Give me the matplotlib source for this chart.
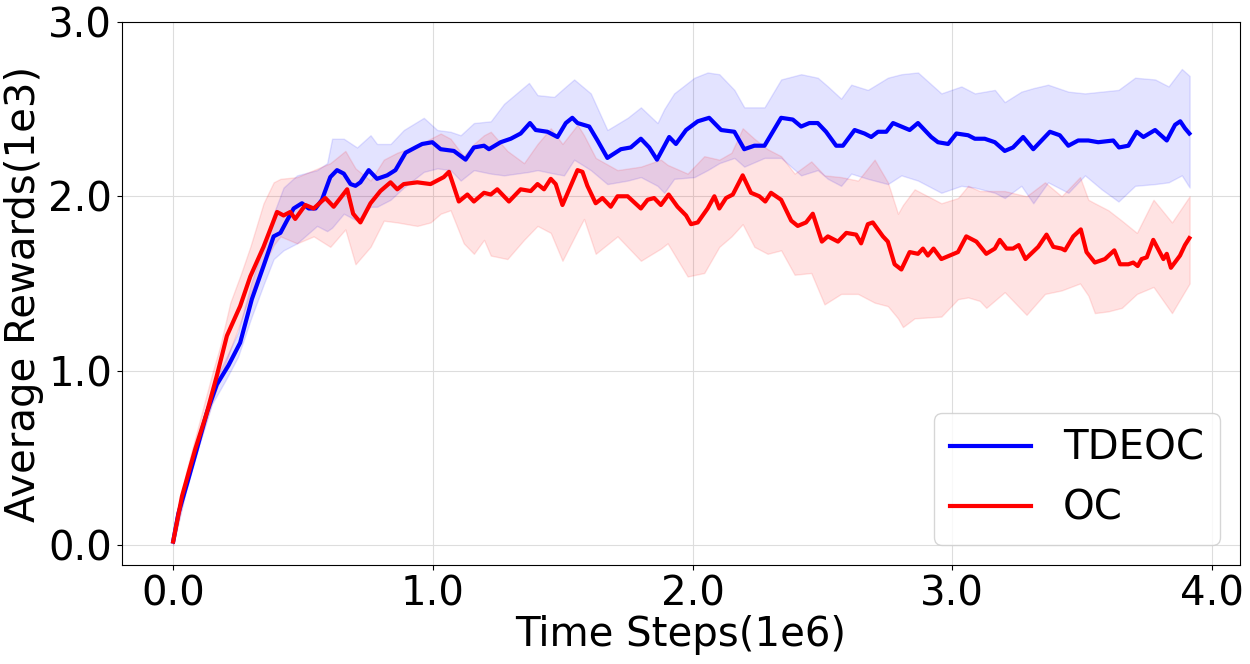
import matplotlib
matplotlib.use("Agg")
import matplotlib.pyplot as plt
import numpy as np

# time steps in units of 1e6, rewards in units of 1e3
tdeoc_x = [0, 0.02, 0.053, 0.091, 0.130, 0.168, 0.213, 0.258, 0.303, 0.348, 0.387, 0.413,
           0.438, 0.464, 0.496, 0.522, 0.548, 0.573, 0.605, 0.631, 0.657, 0.683, 0.702, 0.721,
           0.753, 0.785, 0.824, 0.856, 0.895, 0.933, 0.959, 0.998, 1.030, 1.081, 1.126, 1.158,
           1.197, 1.216, 1.261, 1.300, 1.338, 1.374, 1.396, 1.441, 1.480, 1.512, 1.537, 1.557,
           1.602, 1.634, 1.672, 1.724, 1.762, 1.801, 1.833, 1.863, 1.910, 1.936, 1.975, 2.020,
           2.064, 2.110, 2.161, 2.199, 2.238, 2.277, 2.341, 2.386, 2.418, 2.450, 2.482, 2.514,
           2.553, 2.579, 2.624, 2.662, 2.688, 2.714, 2.746, 2.772, 2.804, 2.836, 2.868, 2.919,
           2.945, 2.984, 3.016, 3.061, 3.087, 3.125, 3.164, 3.202, 3.234, 3.273, 3.312, 3.376,
           3.414, 3.447, 3.485, 3.524, 3.562, 3.620, 3.642, 3.678, 3.710, 3.736, 3.781, 3.826,
           3.858, 3.878, 3.896, 3.913]
tdeoc_y = [0.02, 0.18, 0.35, 0.55, 0.76, 0.92, 1.03, 1.16, 1.41, 1.60, 1.77, 1.79,
           1.86, 1.93, 1.96, 1.93, 1.93, 1.98, 2.11, 2.15, 2.13, 2.07, 2.06, 2.08,
           2.15, 2.10, 2.12, 2.15, 2.25, 2.28, 2.30, 2.31, 2.27, 2.26, 2.21, 2.28,
           2.29, 2.27, 2.31, 2.33, 2.36, 2.42, 2.38, 2.37, 2.34, 2.42, 2.45, 2.42,
           2.40, 2.32, 2.22, 2.27, 2.28, 2.33, 2.28, 2.21, 2.34, 2.30, 2.38, 2.43,
           2.45, 2.38, 2.37, 2.27, 2.29, 2.29, 2.45, 2.44, 2.40, 2.42, 2.42, 2.37,
           2.29, 2.29, 2.38, 2.36, 2.34, 2.37, 2.37, 2.42, 2.40, 2.38, 2.42, 2.34,
           2.31, 2.30, 2.36, 2.35, 2.33, 2.33, 2.31, 2.26, 2.28, 2.34, 2.27, 2.37,
           2.35, 2.29, 2.32, 2.32, 2.31, 2.32, 2.28, 2.29, 2.37, 2.34, 2.38, 2.32,
           2.41, 2.43, 2.39, 2.36]

oc_x = [0, 0.034, 0.085, 0.130, 0.168, 0.207, 0.258, 0.297, 0.348, 0.400, 0.425, 0.451,
        0.470, 0.509, 0.541, 0.586, 0.618, 0.670, 0.693, 0.721, 0.760, 0.798, 0.837, 0.863,
        0.888, 0.940, 0.991, 1.042, 1.062, 1.100, 1.133, 1.158, 1.197, 1.223, 1.248, 1.293,
        1.338, 1.377, 1.403, 1.428, 1.454, 1.473, 1.499, 1.525, 1.557, 1.576, 1.595, 1.627,
        1.653, 1.685, 1.711, 1.750, 1.801, 1.827, 1.852, 1.878, 1.908, 1.942, 1.975, 1.994,
        2.020, 2.058, 2.084, 2.103, 2.129, 2.155, 2.193, 2.225, 2.257, 2.280, 2.302, 2.341,
        2.380, 2.405, 2.437, 2.463, 2.498, 2.521, 2.560, 2.592, 2.630, 2.649, 2.675, 2.694,
        2.733, 2.752, 2.778, 2.804, 2.836, 2.868, 2.887, 2.906, 2.928, 2.958, 2.990, 3.022,
        3.054, 3.093, 3.131, 3.164, 3.183, 3.209, 3.234, 3.256, 3.282, 3.331, 3.363, 3.389,
        3.421, 3.434, 3.466, 3.495, 3.517, 3.549, 3.588, 3.624, 3.646, 3.678, 3.697, 3.714,
        3.729, 3.749, 3.774, 3.813, 3.826, 3.842, 3.877, 3.896, 3.913]
oc_y = [0.02, 0.28, 0.55, 0.76, 0.97, 1.20, 1.37, 1.54, 1.71, 1.91, 1.89, 1.91,
        1.87, 1.95, 1.93, 1.99, 1.94, 2.04, 1.90, 1.85, 1.96, 2.03, 2.08, 2.04,
        2.07, 2.08, 2.07, 2.11, 2.14, 1.97, 2.01, 1.97, 2.02, 2.01, 2.04, 1.97,
        2.04, 2.03, 2.07, 2.04, 2.10, 2.07, 1.95, 2.04, 2.15, 2.14, 2.06, 1.96,
        1.99, 1.94, 2.00, 2.00, 1.93, 1.98, 1.99, 1.95, 2.01, 1.94, 1.89, 1.84,
        1.85, 1.93, 2.00, 1.93, 1.99, 2.01, 2.12, 2.02, 2.00, 1.97, 2.02, 1.98,
        1.86, 1.83, 1.85, 1.90, 1.74, 1.77, 1.74, 1.79, 1.78, 1.73, 1.84, 1.85,
        1.77, 1.74, 1.61, 1.58, 1.68, 1.67, 1.70, 1.66, 1.70, 1.64, 1.66, 1.68,
        1.77, 1.74, 1.67, 1.70, 1.75, 1.70, 1.70, 1.72, 1.64, 1.71, 1.78, 1.71,
        1.70, 1.69, 1.77, 1.81, 1.68, 1.62, 1.64, 1.69, 1.61, 1.61, 1.62, 1.60,
        1.64, 1.65, 1.75, 1.64, 1.67, 1.59, 1.66, 1.72, 1.76]

# shaded bands: x, lower edge, upper edge
tdeoc_band_x = [0.0, 0.05, 0.10, 0.15, 0.20, 0.25, 0.30, 0.35, 0.387, 0.425, 0.477, 0.554,
                0.593, 0.612, 0.657, 0.708, 0.760, 0.785, 0.837, 0.888, 0.965, 1.017, 1.068,
                1.107, 1.158, 1.223, 1.274, 1.370, 1.403, 1.467, 1.505, 1.544, 1.608, 1.672,
                1.750, 1.801, 1.865, 1.891, 1.929, 2.007, 2.058, 2.103, 2.161, 2.199, 2.277,
                2.341, 2.418, 2.482, 2.521, 2.572, 2.611, 2.675, 2.752, 2.804, 2.868, 2.958,
                3.035, 3.087, 3.164, 3.202, 3.266, 3.312, 3.369, 3.447, 3.511, 3.575, 3.640,
                3.704, 3.781, 3.833, 3.884, 3.914]
tdeoc_lo = [0.00, 0.31, 0.57, 0.81, 0.94, 1.08, 1.30, 1.50, 1.64, 1.69, 1.73, 1.83,
            1.80, 1.82, 1.90, 1.86, 1.94, 1.94, 1.98, 2.05, 2.14, 2.16, 2.15,
            2.09, 2.15, 2.13, 2.12, 2.14, 2.15, 2.13, 2.12, 2.21, 2.15, 2.07,
            2.09, 2.11, 2.06, 2.02, 2.10, 2.11, 2.15, 2.19, 2.22, 2.17, 2.22,
            2.22, 2.12, 2.15, 2.10, 2.06, 2.13, 2.10, 2.07, 2.12, 2.09, 2.02,
            2.06, 2.05, 2.02, 1.99, 2.06, 1.96, 2.08, 2.02, 2.12, 2.04, 1.97,
            2.06, 2.07, 2.08, 2.12, 2.05]
tdeoc_hi = [0.04, 0.38, 0.65, 0.91, 1.06, 1.22, 1.50, 1.72, 1.90, 2.05, 2.12, 2.15,
            2.19, 2.33, 2.33, 2.28, 2.35, 2.30, 2.30, 2.38, 2.45, 2.38, 2.37,
            2.35, 2.42, 2.43, 2.53, 2.65, 2.58, 2.57, 2.62, 2.67, 2.59, 2.38,
            2.45, 2.51, 2.42, 2.50, 2.59, 2.68, 2.71, 2.70, 2.61, 2.51, 2.51,
            2.67, 2.70, 2.68, 2.63, 2.56, 2.64, 2.61, 2.68, 2.70, 2.71, 2.59,
            2.63, 2.59, 2.61, 2.54, 2.60, 2.62, 2.64, 2.60, 2.59, 2.60, 2.61,
            2.68, 2.67, 2.63, 2.73, 2.69]

oc_band_x = [0.0, 0.05, 0.10, 0.15, 0.181, 0.220, 0.260, 0.297, 0.348, 0.387, 0.413, 0.477,
             0.541, 0.605, 0.663, 0.702, 0.760, 0.811, 0.863, 0.940, 0.991, 1.030, 1.068,
             1.119, 1.158, 1.197, 1.223, 1.287, 1.351, 1.403, 1.454, 1.499, 1.557, 1.582,
             1.627, 1.711, 1.801, 1.878, 1.904, 1.981, 2.045, 2.103, 2.150, 2.193, 2.238,
             2.289, 2.341, 2.393, 2.457, 2.508, 2.572, 2.637, 2.701, 2.752, 2.791, 2.810,
             2.855, 2.958, 3.022, 3.061, 3.106, 3.131, 3.202, 3.286, 3.357, 3.421, 3.492,
             3.524, 3.549, 3.601, 3.653, 3.711, 3.775, 3.846, 3.914]
oc_lo = [0.00, 0.33, 0.58, 0.82, 0.95, 1.12, 1.28, 1.44, 1.60, 1.72, 1.77, 1.73,
         1.77, 1.71, 1.81, 1.61, 1.71, 1.86, 1.85, 1.83, 1.85, 1.90, 1.92,
         1.73, 1.67, 1.75, 1.66, 1.64, 1.75, 1.83, 1.79, 1.63, 1.80, 1.87,
         1.67, 1.77, 1.63, 1.70, 1.73, 1.54, 1.56, 1.71, 1.77, 1.84, 1.71,
         1.67, 1.69, 1.55, 1.56, 1.38, 1.44, 1.44, 1.39, 1.37, 1.30, 1.25,
         1.30, 1.31, 1.41, 1.42, 1.40, 1.36, 1.45, 1.32, 1.44, 1.46, 1.50,
         1.43, 1.33, 1.34, 1.36, 1.44, 1.48, 1.33, 1.50]
oc_hi = [0.04, 0.42, 0.70, 0.98, 1.14, 1.39, 1.55, 1.71, 1.96, 2.08, 2.10, 2.11,
         2.15, 2.19, 2.26, 2.16, 2.09, 2.21, 2.25, 2.29, 2.33, 2.36, 2.33,
         2.23, 2.30, 2.35, 2.37, 2.26, 2.19, 2.30, 2.39, 2.30, 2.41, 2.35,
         2.22, 2.15, 2.17, 2.21, 2.18, 2.13, 2.23, 2.21, 2.25, 2.39, 2.33,
         2.27, 2.23, 2.13, 2.20, 2.12, 2.11, 2.09, 2.21, 2.08, 1.90, 1.95,
         2.04, 1.96, 1.99, 2.06, 2.03, 2.03, 2.03, 2.00, 2.08, 2.00, 2.11,
         1.98, 1.96, 1.92, 1.86, 1.79, 1.98, 1.85, 2.00]

fig = plt.figure(figsize=(12.5, 6.64), dpi=100)
ax = fig.add_axes([0.0976, 0.149, 0.8944, 0.818])

ax.fill_between(tdeoc_band_x, tdeoc_lo, tdeoc_hi, color='blue', alpha=0.11)
ax.fill_between(oc_band_x, oc_lo, oc_hi, color='red', alpha=0.11)
ax.plot(tdeoc_x, tdeoc_y, color='blue', linewidth=3, label='TDEOC')
ax.plot(oc_x, oc_y, color='red', linewidth=3, label='OC')

ax.set_xlim(-0.197, 4.108)
ax.set_ylim(-0.115, 3.0)
ax.set_xticks([0, 1, 2, 3, 4])
ax.set_xticklabels(['0.0', '1.0', '2.0', '3.0', '4.0'])
ax.set_yticks([0, 1, 2, 3])
ax.set_yticklabels(['0.0', '1.0', '2.0', '3.0'])
ax.tick_params(labelsize=29)
ax.grid(True, color='#dddddd', linewidth=0.8)
ax.set_axisbelow(True)
ax.set_xlabel('Time Steps(1e6)', fontsize=29, labelpad=0)
ax.set_ylabel('Average Rewards(1e3)', fontsize=29, labelpad=3)
ax.legend(loc='lower right', fontsize=29)

fig.savefig('out.png', dpi=100)
